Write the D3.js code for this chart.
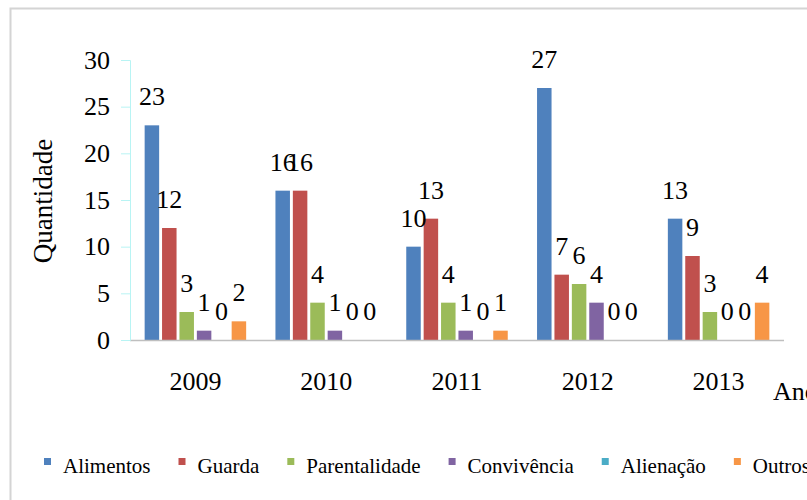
<!DOCTYPE html>
<html>
<head>
<meta charset="utf-8">
<script src="https://cdn.jsdelivr.net/npm/d3@7"></script>
<style>
	body { margin: 0; background: #fff; }
</style>
</head>
<body>
<svg id="chart" width="807" height="500" font-family="Liberation Serif"></svg>
<script>
var years = ["2009", "2010", "2011", "2012", "2013"];
var series = ["Alimentos", "Guarda", "Parentalidade", "Convivência", "Alienação", "Outros"];
var colors = ["#4F81BD", "#C0504D", "#9BBB59", "#8064A2", "#4BACC6", "#F79646"];
var alimentos = [23, 16, 10, 27, 13];
var guarda = [12, 16, 13, 7, 9];
var parentalidade = [3, 4, 4, 6, 3];
var convivencia = [1, 1, 1, 4, 0];
var alienacao = [0, 0, 0, 0, 0];
var outros = [2, 0, 1, 0, 4];
var yTicks = [0, 5, 10, 15, 20, 25, 30];

var values = [alimentos, guarda, parentalidade, convivencia, alienacao, outros];

var svg = d3.select("#chart");

function label(sel, size) {
	return sel.attr("font-family", "Liberation Serif").attr("font-size", size).attr("fill", "#000");
}

// chart area border (only top and left visible)
svg.append("rect")
	.attr("x", 10.5).attr("y", 8.5)
	.attr("width", 820).attr("height", 520)
	.attr("fill", "none")
	.attr("stroke", "#d4d4d4")
	.attr("stroke-width", 2);

var x0 = d3.scaleBand().domain(years).range([130, 784]).paddingInner(0.224).paddingOuter(0.112);
var x1 = d3.scaleBand().domain(series).range([0, x0.bandwidth()]).paddingInner(0.167);
var y = d3.scaleLinear().domain([0, 30]).range([340, 60]);

// bars
var rows = [];
for (var s = 0; s < series.length; s++) {
	for (var i = 0; i < years.length; i++) {
		rows.push({ year: years[i], name: series[s], value: values[s][i], color: colors[s] });
	}
}

svg.selectAll(".bar")
	.data(rows)
	.enter().append("rect")
	.attr("class", "bar")
	.attr("x", function(d) { return x0(d.year) + x1(d.name); })
	.attr("y", function(d) { return y(d.value); })
	.attr("width", x1.bandwidth())
	.attr("height", function(d) { return 340 - y(d.value); })
	.attr("fill", function(d) { return d.color; });

// x axis line
svg.append("line")
	.attr("x1", 130).attr("x2", 784)
	.attr("y1", 340.5).attr("y2", 340.5)
	.attr("stroke", "#bfbfbf")
	.attr("stroke-width", 1.5);

// value labels
label(svg.selectAll(".lbl")
	.data(rows)
	.enter().append("text")
	.attr("class", "lbl")
	.attr("x", function(d) { return x0(d.year) + x1(d.name) + x1.bandwidth() / 2; })
	.attr("y", function(d) { return y(d.value) - 20; })
	.attr("text-anchor", "middle")
	.text(function(d) { return d.value; }), 26);

// year labels
label(svg.selectAll(".year")
	.data(years)
	.enter().append("text")
	.attr("class", "year")
	.attr("x", function(d) { return x0(d) + x0.bandwidth() / 2; })
	.attr("y", 390)
	.attr("text-anchor", "middle")
	.text(function(d) { return d; }), 26);

label(svg.append("text")
	.attr("x", 773).attr("y", 400)
	.text("Ano"), 26);

label(svg.append("text")
	.attr("transform", "translate(52,201) rotate(-90)")
	.attr("text-anchor", "middle")
	.text("Quantidade"), 27);

// legend
var lx = 44;
for (var k = 0; k < series.length; k++) {
	svg.append("rect")
		.attr("x", lx).attr("y", 458)
		.attr("width", 7).attr("height", 7)
		.attr("fill", colors[k]);
	var t = label(svg.append("text")
		.attr("x", lx + 19).attr("y", 473)
		.text(series[k]), 21);
	lx = lx + 19 + t.node().getComputedTextLength() + 28;
}

// y axis
var yAxis = svg.append("g")
	.attr("transform", "translate(130,0)")
	.call(d3.axisLeft(y).tickValues(yTicks).tickSize(9).tickPadding(11));
yAxis.attr("font-family", "Liberation Serif").attr("font-size", 26);
yAxis.select(".domain").attr("stroke", "#b8f4f4");
yAxis.selectAll(".tick line").attr("stroke", "#b8f4f4");
label(yAxis.selectAll(".tick text"), 26);
</script>
</body>
</html>
